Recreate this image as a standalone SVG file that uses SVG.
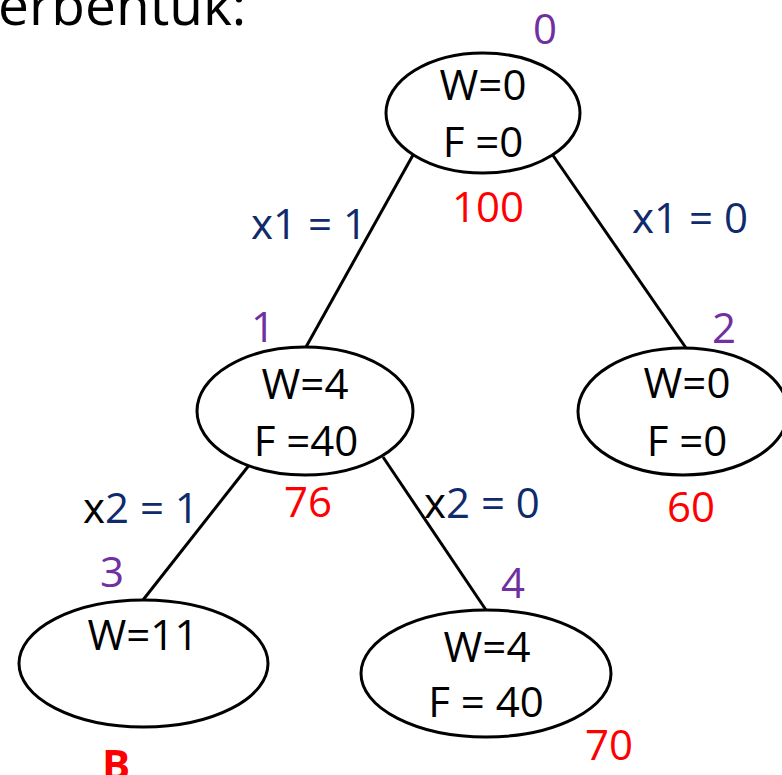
<svg xmlns="http://www.w3.org/2000/svg" width="782" height="775" viewBox="0 0 782 775">
<style>
text{font-family:"Open Sans","Liberation Sans",sans-serif;font-size:42px;}
.c{text-anchor:middle;}
.k{fill:#000;}
.p{fill:#7030A0;}
.r{fill:#FF0000;}
.b{fill:#0F2B6B;}
ellipse{fill:#fff;stroke:#000;stroke-width:3;}
line{stroke:#000;stroke-width:3;}
</style>
<rect width="782" height="775" fill="#fff"/>
<text x="-2" y="25" style="font-size:55px" class="k">erbentuk:</text>
<g id="connectors">
<line x1="413" y1="155" x2="306" y2="347"/>
<line x1="552" y1="154" x2="686" y2="348"/>
<line x1="250" y1="464" x2="143" y2="600"/>
<line x1="383" y1="457" x2="486" y2="610"/>
</g>
<g id="edge-labels">
<text x="309" y="239" class="c b">x1 = 1</text>
<text x="690" y="233" class="c b">x1 = 0</text>
<text x="83" y="523"><tspan class="k">x</tspan><tspan class="b">2 = 1</tspan></text>
<text x="424" y="518"><tspan class="k">x</tspan><tspan class="b">2 = 0</tspan></text>
</g>
<g id="node0">
<ellipse cx="483" cy="113" rx="97" ry="60"/>
<text x="483" y="100" class="c k">W=0</text>
<text x="483" y="157" class="c k">F =0</text>
<text x="545" y="44" class="c p">0</text>
<text x="488" y="222" class="c r">100</text>
</g>
<g id="node1">
<ellipse cx="305" cy="411" rx="108" ry="64"/>
<text x="305" y="399" class="c k">W=4</text>
<text x="306" y="456" class="c k">F =40</text>
<text x="263" y="342" class="c p">1</text>
<text x="308" y="517" class="c r">76</text>
</g>
<g id="node2">
<ellipse cx="683" cy="411.5" rx="105" ry="63.5"/>
<text x="687" y="398" class="c k">W=0</text>
<text x="687" y="456" class="c k">F =0</text>
<text x="724" y="343" class="c p">2</text>
<text x="691" y="522" class="c r">60</text>
</g>
<g id="node3">
<ellipse cx="143.5" cy="663.5" rx="124.5" ry="63.5"/>
<text x="143" y="650" class="c k">W=11</text>
<text x="112" y="587" class="c p">3</text>
<text x="116" y="780" class="c r" style="font-weight:bold">B</text>
</g>
<g id="node4">
<ellipse cx="486" cy="673.5" rx="125" ry="63.5"/>
<text x="487" y="662" class="c k">W=4</text>
<text x="486" y="717" class="c k">F = 40</text>
<text x="513" y="598" class="c p">4</text>
<text x="609" y="760" class="c r">70</text>
</g>
</svg>
